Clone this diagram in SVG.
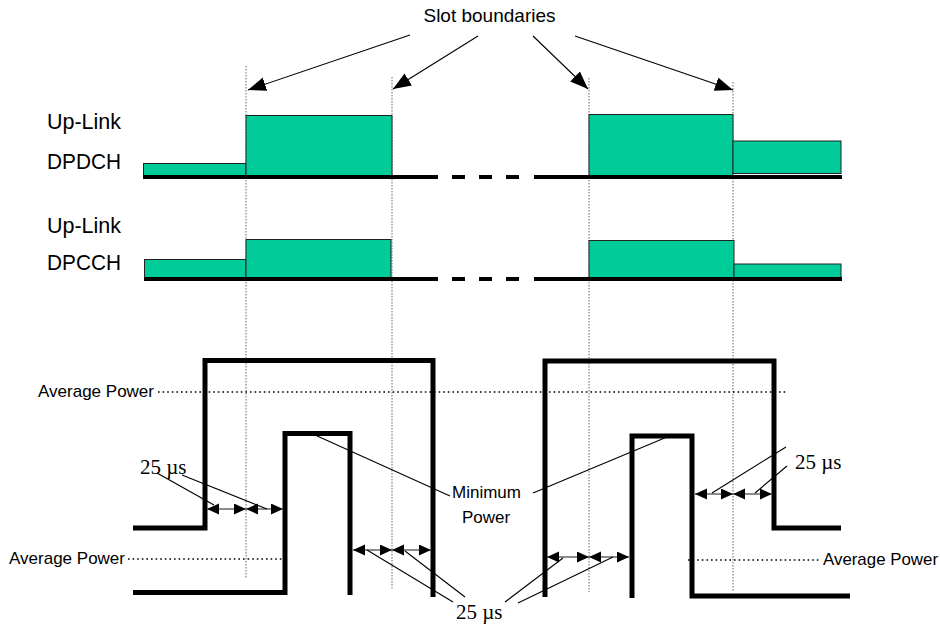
<svg xmlns="http://www.w3.org/2000/svg" width="940" height="626" viewBox="0 0 940 626">
<defs>
<marker id="big" markerUnits="userSpaceOnUse" markerWidth="20" markerHeight="16" refX="18" refY="7" orient="auto"><path d="M0,0 L18,7 L0,14 z" fill="#000"/></marker>
<marker id="sm" markerUnits="userSpaceOnUse" markerWidth="14" markerHeight="12" refX="12" refY="5.5" orient="auto-start-reverse"><path d="M0,0 L12,5.5 L0,11 z" fill="#000"/></marker>
<style>
.lbl{font-family:"Liberation Sans",Arial,sans-serif;fill:#000}
.us{font-family:"Liberation Serif","Times New Roman",serif;font-size:21px;fill:#000}
.bar{fill:#00CC99;stroke:#222;stroke-width:1}
.base{stroke:#000;stroke-width:4;fill:none}
.bdash{stroke:#000;stroke-width:4;stroke-dasharray:13 14;fill:none}
.slot{stroke:#666;stroke-width:1;stroke-dasharray:1.5 1.5;fill:none}
.avg{stroke:#000;stroke-width:1.6;stroke-dasharray:1.6 3;fill:none}
.pw{stroke:#000;stroke-width:5;fill:none;stroke-linejoin:miter}
.lead{stroke:#000;stroke-width:1.1;fill:none}
.dim{stroke:#666;stroke-width:1.3;fill:none;marker-start:url(#sm);marker-end:url(#sm)}
</style>
</defs>
<rect width="940" height="626" fill="#fff"/>

<g id="slot-lines">
<line class="slot" x1="246" y1="66" x2="246" y2="578"/>
<line class="slot" x1="392" y1="77" x2="392" y2="590"/>
<line class="slot" x1="589" y1="78" x2="589" y2="592"/>
<line class="slot" x1="733" y1="82" x2="733" y2="592"/>
</g>

<g id="slot-label">
<text class="lbl" x="489.5" y="22" font-size="19" text-anchor="middle">Slot boundaries</text>
</g>

<g id="dpdch">
<text class="lbl" x="47" y="129" font-size="22" textLength="74" lengthAdjust="spacingAndGlyphs">Up-Link</text>
<text class="lbl" x="47" y="169" font-size="22" textLength="74" lengthAdjust="spacingAndGlyphs">DPDCH</text>
<rect class="bar" x="143.5" y="163.5" width="102.5" height="13"/>
<rect class="bar" x="246" y="115.5" width="146" height="61"/>
<rect class="bar" x="589" y="114.5" width="144" height="62"/>
<rect class="bar" x="733" y="141" width="108" height="32.5"/>
<line class="base" x1="143" y1="177" x2="438" y2="177"/>
<line class="bdash" x1="452" y1="177" x2="520" y2="177"/>
<line class="base" x1="534" y1="177" x2="842" y2="177"/>
</g>

<g id="dpcch">
<text class="lbl" x="47" y="233" font-size="22" textLength="74" lengthAdjust="spacingAndGlyphs">Up-Link</text>
<text class="lbl" x="47" y="270" font-size="22" textLength="74" lengthAdjust="spacingAndGlyphs">DPCCH</text>
<rect class="bar" x="144.5" y="259.5" width="101.5" height="18"/>
<rect class="bar" x="246" y="239.5" width="145" height="38"/>
<rect class="bar" x="589" y="240.5" width="145" height="37"/>
<rect class="bar" x="734" y="264" width="107" height="13.5"/>
<line class="base" x1="144" y1="279" x2="438" y2="279"/>
<line class="bdash" x1="452" y1="279" x2="520" y2="279"/>
<line class="base" x1="534" y1="279" x2="842" y2="279"/>
</g>

<g id="average-power">
<line class="avg" x1="158" y1="392" x2="788" y2="392"/>
<text class="lbl" x="38" y="397" font-size="17" textLength="116" lengthAdjust="spacingAndGlyphs">Average Power</text>
<line class="avg" x1="128" y1="559" x2="283" y2="559"/>
<text class="lbl" x="9" y="564" font-size="17" textLength="116" lengthAdjust="spacingAndGlyphs">Average Power</text>
<line class="avg" x1="688" y1="560" x2="820" y2="560"/>
<text class="lbl" x="823" y="565" font-size="17" textLength="115" lengthAdjust="spacingAndGlyphs">Average Power</text>
</g>

<g id="burst-left-high">
<polyline class="pw" points="133,528 205,528 205,360.5 433,360.5 433,597"/>
</g>
<g id="burst-left-low">
<polyline class="pw" points="133,592.5 285,592.5 285,433.5 350,433.5 350,595"/>
</g>
<g id="burst-right-high">
<polyline class="pw" points="545,597 545,361 774,361 774,528 841,528"/>
</g>
<g id="burst-right-low">
<polyline class="pw" points="632,598 632,436 692,436 692,596 850,596"/>
</g>

<g id="minimum-power">
<text class="lbl" x="486.5" y="498" font-size="17" text-anchor="middle">Minimum</text>
<text class="lbl" x="486" y="523" font-size="17" text-anchor="middle">Power</text>
</g>

<g id="us-labels">
<text class="us" x="140" y="474">25 µs</text>
<text class="us" x="795" y="469">25 µs</text>
<text class="us" x="456" y="619">25 µs</text>
</g>

<g id="connectors">
<line class="lead" x1="410" y1="35" x2="248" y2="90" marker-end="url(#big)"/>
<line class="lead" x1="478" y1="36" x2="393" y2="89" marker-end="url(#big)"/>
<line class="lead" x1="533" y1="36" x2="588" y2="89" marker-end="url(#big)"/>
<line class="lead" x1="575" y1="36" x2="733" y2="90" marker-end="url(#big)"/>

<line class="lead" x1="315" y1="435" x2="450" y2="496"/>
<line class="lead" x1="533" y1="493" x2="667" y2="437"/>

<line class="dim" x1="207" y1="509" x2="246" y2="509"/>
<line class="dim" x1="246" y1="509" x2="283" y2="509"/>
<line class="dim" x1="695" y1="494" x2="733" y2="494"/>
<line class="dim" x1="733" y1="494" x2="772" y2="494"/>
<line class="dim" x1="353" y1="550" x2="392" y2="550"/>
<line class="dim" x1="392" y1="550" x2="431" y2="550"/>
<line class="dim" x1="547" y1="557" x2="589" y2="557"/>
<line class="dim" x1="589" y1="557" x2="629" y2="557"/>

<line class="lead" x1="157" y1="473" x2="214" y2="505"/>
<line class="lead" x1="182" y1="475" x2="267" y2="509"/>
<line class="lead" x1="786" y1="447" x2="712" y2="493"/>
<line class="lead" x1="787" y1="466" x2="755" y2="493"/>
<line class="lead" x1="453" y1="602" x2="367" y2="550"/>
<line class="lead" x1="465" y1="597" x2="405" y2="551"/>
<line class="lead" x1="505" y1="602" x2="563" y2="558"/>
<line class="lead" x1="518" y1="603" x2="613" y2="557"/>
</g>
</svg>
